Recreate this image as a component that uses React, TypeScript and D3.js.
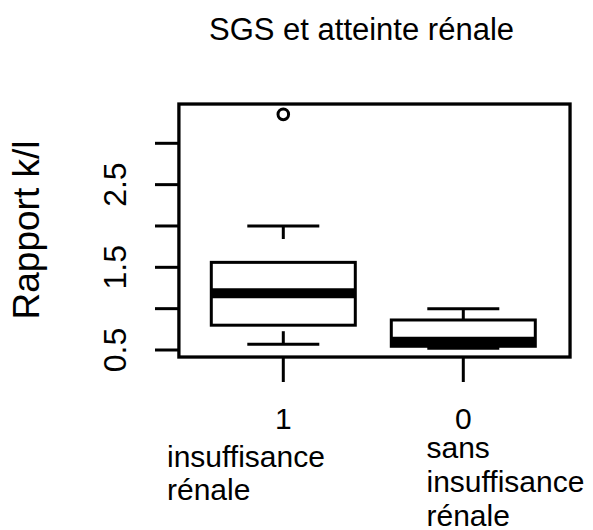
import React from "react";
import * as d3 from "d3";

const title = "SGS et atteinte rénale";
const yAxisTitle = "Rapport k/l";
const categories = ["1", "0"];
const groupLabels = [["insuffisance", "rénale"], ["sans", "insuffisance", "rénale"]];
const whiskerLow = [0.57, 0.52];
const q1 = [0.8, 0.545];
const median = [1.186, 0.6];
const q3 = [1.56, 0.863];
const whiskerHigh = [2.0, 1.0];
const outliers = [[3.35], []];
const yTicks = [0.5, 1.0, 1.5, 2.0, 2.5, 3.0];
const yTickLabels = [0.5, 1.5, 2.5];

export default function App() {
  const W = 593, H = 530;
  const x = d3.scaleLinear().domain([1, 2]).range([283.3, 463.3]);
  const y = d3.scaleLinear().domain([0.5, 3.0]).range([350, 143.3]);
  const frame = { x0: x(0.42), x1: x(2.593), y0: y(3.475), y1: y(0.415) };
  const boxHalf = 0.4;
  const capHalf = 0.2;
  const font = "'Liberation Sans', Arial, Helvetica, sans-serif";
  const lw = 3;
  const labelX = [167, 426.5];
  const labelBase = [[466.5, 500], [458, 492, 525.5]];

  return (
    <svg width={W} height={H} style={{ position: "absolute", left: 0, top: 0, background: "#fff" }} fontFamily={font}>
      <rect x={0} y={0} width={W} height={H} fill="#fff" />
      <text x={361.5} y={40} fontSize={31} textAnchor="middle" fill="#000">{title}</text>
      <text transform={`translate(39,${230}) rotate(-90)`} fontSize={37} textAnchor="middle" fill="#000">{yAxisTitle}</text>

      {yTicks.map((t) => (
        <line key={"yt" + t} x1={155} x2={frame.x0} y1={y(t)} y2={y(t)} stroke="#000" strokeWidth={lw} />
      ))}
      {yTickLabels.map((t) => (
        <text key={"yl" + t} transform={`translate(126,${y(t)}) rotate(-90)`} fontSize={32} textAnchor="middle" fill="#000">
          {t.toFixed(1)}
        </text>
      ))}

      {categories.map((c, i) => {
        const cx = x(i + 1);
        const bx0 = x(i + 1 - boxHalf);
        const bx1 = x(i + 1 + boxHalf);
        const cx0 = x(i + 1 - capHalf);
        const cx1 = x(i + 1 + capHalf);
        return (
          <g key={c}>
            <line x1={cx} x2={cx} y1={y(whiskerHigh[i])} y2={y(q3[i])} stroke="#000" strokeWidth={lw} strokeDasharray="13 60" />
            <line x1={cx} x2={cx} y1={y(whiskerLow[i])} y2={y(q1[i])} stroke="#000" strokeWidth={lw} strokeDasharray="13 60" />
            <line x1={cx0} x2={cx1} y1={y(whiskerHigh[i])} y2={y(whiskerHigh[i])} stroke="#000" strokeWidth={lw} />
            <line x1={cx0} x2={cx1} y1={y(whiskerLow[i])} y2={y(whiskerLow[i])} stroke="#000" strokeWidth={lw} />
            <rect x={bx0} y={y(q3[i])} width={bx1 - bx0} height={y(q1[i]) - y(q3[i])} fill="#fff" stroke="#000" strokeWidth={lw} />
            <line x1={bx0} x2={bx1} y1={y(median[i])} y2={y(median[i])} stroke="#000" strokeWidth={10} />
            {outliers[i].map((o, k) => (
              <circle key={k} cx={cx} cy={y(o)} r={5.3} fill="none" stroke="#000" strokeWidth={3} />
            ))}
            <line x1={cx} x2={cx} y1={frame.y1} y2={frame.y1 + 25} stroke="#000" strokeWidth={lw} />
            <text x={cx} y={429} fontSize={30} textAnchor="middle" fill="#000">{c}</text>
            {groupLabels[i].map((s, k) => (
              <text key={k} x={labelX[i]} y={labelBase[i][k]} fontSize={30} fill="#000">{s}</text>
            ))}
          </g>
        );
      })}

      <rect x={frame.x0} y={frame.y0} width={frame.x1 - frame.x0} height={frame.y1 - frame.y0} fill="none" stroke="#000" strokeWidth={3.3} />
    </svg>
  );
}
